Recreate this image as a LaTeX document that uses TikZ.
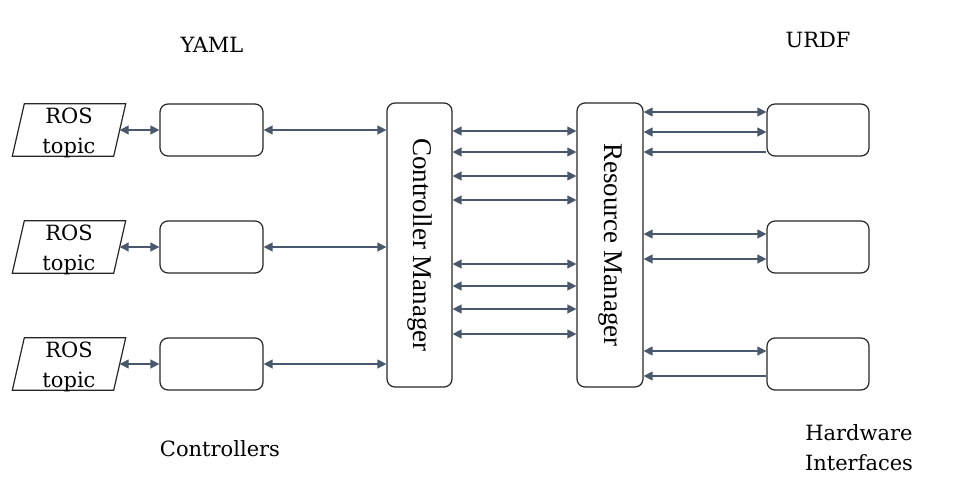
\documentclass[tikz,border=0pt]{standalone}
\usepackage{fontspec}
\setmainfont{DejaVu Serif}
\newfontfamily\mgrfont{Liberation Serif}
\usetikzlibrary{arrows.meta}
\definecolor{linkgray}{RGB}{74,88,110}

\begin{document}
\begin{tikzpicture}[x=1pt, y=-1pt,
	box/.style={draw=black!85, line width=1.2pt, rounded corners=8pt, inner sep=0pt},
	topic/.style={minimum width=101pt, minimum height=52pt, inner sep=0pt},
	link/.style={draw=linkgray, line width=1.3pt, {Triangle[length=9pt,width=9pt]}-{Triangle[length=9pt,width=9pt]}},
	back/.style={draw=linkgray, line width=1.3pt, {Triangle[length=9pt,width=9pt]}-},
	txt/.style={font=\fontsize{21}{30}\selectfont, align=center, inner sep=0pt},
	mgr/.style={font=\mgrfont\fontsize{27}{30}\selectfont, rotate=-90, inner sep=0pt}]
	\useasboundingbox (0,0) rectangle (960,501);
	
	% Managers
	\node[box, minimum width=65pt, minimum height=284pt] (cm) at (419.5,245) {};
	\node[mgr] at (cm) {Controller Manager};
	\node[box, minimum width=66pt, minimum height=284pt] (rm) at (610,245) {};
	\node[mgr] at (rm) {Resource Manager};
	
	% Topics, controllers and hardware
	\foreach \i/\y in {1/130, 2/247, 3/364} {
		\node[topic] (ros\i) at (69,\y) {};
		\draw[black!85, line width=1.2pt] ([xshift=6pt]ros\i.north west) -- ([xshift=6pt]ros\i.north east)
			-- ([xshift=-6pt]ros\i.south east) -- ([xshift=-6pt]ros\i.south west) -- cycle;
		\node[txt] at ([yshift=-3pt]ros\i.center) {ROS\\topic};
		\node[box, minimum width=103pt, minimum height=52pt] (ctl\i) at (211.5,\y) {};
		\node[box, minimum width=102pt, minimum height=52pt] (hw\i) at (818,\y) {};
		\draw[link] (ros\i.east) -- (ctl\i.west);
		\draw[link] (ctl\i.east) -- (cm.west |- ctl\i.east);
	}
	
	% Controller manager to resource manager
	\foreach \y in {131,152,176,200,264,286,309,334} {
		\draw[link] (cm.east |- 0,\y) -- (rm.west |- 0,\y);
	}
	
	% Resource manager to hardware
	\foreach \y in {112,132,234,259,351} {
		\draw[link] (rm.east |- 0,\y) -- (hw1.west |- 0,\y);
	}
	\foreach \y in {152,376} {
		\draw[back] (rm.east |- 0,\y) -- (hw1.west |- 0,\y);
	}
	
	% Labels
	\node[txt] (yaml) at (212,45) {YAML};
	\node[txt] (urdf) at (818,40) {URDF};
	\node[txt] (ctls) at (220,449) {Controllers};
	\node[txt] (hwif) at (859,448) {Hardware\\Interfaces};
\end{tikzpicture}
\end{document}
